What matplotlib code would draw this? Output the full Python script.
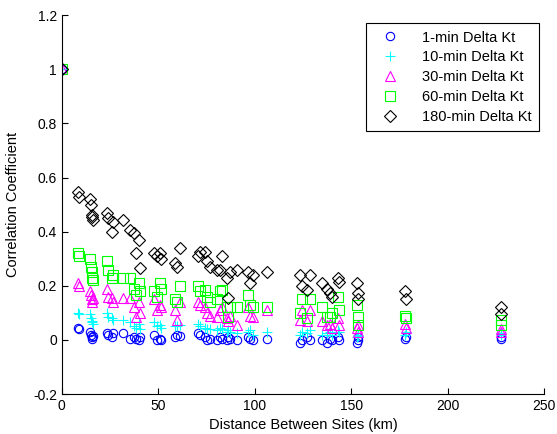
import numpy as np
import matplotlib
matplotlib.use('Agg')
import matplotlib.pyplot as plt

plt.rcParams['font.family'] = ['Liberation Sans', 'DejaVu Sans']

# distance between site pairs (km)
dist = [0, 8.3, 9.0, 14.5, 15.0, 15.6, 15.8, 16.0, 23.3, 23.9, 25.9, 26.5, 31.6,
        35.3, 37.3, 38.4, 40.2, 40.5, 47.7, 49.3, 50.8, 51.5, 58.6, 59.6, 61.2,
        70.5, 71.6, 74.2, 75.2, 76.8, 80.4, 82.0, 83.0, 85.6, 86.1, 87.1, 90.8,
        96.5, 97.5, 99.0, 106.5, 123.4, 124.5, 127.0, 128.6, 135.0, 137.5, 139.0,
        140.0, 143.0, 143.7, 153.0, 153.3, 153.6, 178.0, 178.2, 227.5, 227.8]

# correlation of delta Kt for each averaging interval
r1 = [1, 0.045, 0.04, 0.03, 0.02, 0.01, 0.005, 0.015, 0.025, 0.02, 0.01, 0.025, 0.025,
      0.005, 0.01, 0.005, 0.0, 0.01, 0.02, 0.0, 0.005, 0.0, 0.01, 0.02, 0.015,
      0.025, 0.02, 0.01, 0.0, 0.005, 0.0, 0.01, 0.005, 0.0, 0.01, 0.005, 0.0,
      0.01, 0.005, 0.0, 0.005, -0.01, 0.0, 0.01, 0.0, 0.0, -0.01, 0.005,
      0.0, 0.01, 0.0, -0.01, 0.0, 0.01, 0.005, 0.01, 0.005, 0.01]
r10 = [1, 0.10, 0.095, 0.095, 0.08, 0.07, 0.065, 0.06, 0.10, 0.085, 0.08, 0.075, 0.075,
       0.065, 0.05, 0.045, 0.06, 0.04, 0.065, 0.05, 0.055, 0.045, 0.05, 0.05, 0.055,
       0.06, 0.05, 0.045, 0.04, 0.04, 0.035, 0.045, 0.04, 0.03, 0.035, 0.03, 0.025,
       0.03, 0.035, 0.02, 0.03, 0.02, 0.03, 0.025, 0.035, 0.02, 0.025, 0.03,
       0.02, 0.035, 0.03, 0.01, 0.015, 0.02, 0.02, 0.03, 0.02, 0.025]
r30 = [1, 0.21, 0.20, 0.18, 0.165, 0.15, 0.14, 0.155, 0.19, 0.16, 0.155, 0.14, 0.155,
       0.155, 0.12, 0.085, 0.14, 0.10, 0.15, 0.11, 0.13, 0.12, 0.11, 0.075, 0.14,
       0.14, 0.13, 0.12, 0.10, 0.09, 0.085, 0.11, 0.12, 0.08, 0.07, 0.09, 0.055,
       0.12, 0.09, 0.085, 0.11, 0.075, 0.11, 0.07, 0.11, 0.07, 0.055, 0.06,
       0.045, 0.08, 0.055, 0.045, 0.03, 0.055, 0.06, 0.045, 0.04, 0.03]
r60 = [1, 0.32, 0.31, 0.30, 0.27, 0.25, 0.23, 0.22, 0.29, 0.26, 0.23, 0.24, 0.23,
       0.23, 0.19, 0.165, 0.21, 0.18, 0.18, 0.16, 0.21, 0.19, 0.15, 0.14, 0.20,
       0.20, 0.18, 0.185, 0.16, 0.14, 0.15, 0.18, 0.185, 0.12, 0.085, 0.12, 0.12,
       0.165, 0.13, 0.12, 0.12, 0.10, 0.15, 0.08, 0.15, 0.12, 0.085, 0.085,
       0.10, 0.16, 0.11, 0.13, 0.085, 0.055, 0.09, 0.08, 0.075, 0.055]
r180 = [1, 0.545, 0.53, 0.52, 0.50, 0.46, 0.455, 0.445, 0.47, 0.45, 0.40, 0.435, 0.443,
        0.406, 0.395, 0.32, 0.37, 0.265, 0.32, 0.31, 0.32, 0.30, 0.285, 0.27, 0.34,
        0.31, 0.325, 0.325, 0.29, 0.27, 0.26, 0.258, 0.31, 0.23, 0.155, 0.25, 0.26,
        0.25, 0.21, 0.24, 0.25, 0.24, 0.20, 0.185, 0.24, 0.21, 0.19, 0.175,
        0.16, 0.23, 0.215, 0.21, 0.175, 0.15, 0.18, 0.15, 0.12, 0.095]

series = [
    (r1, 'o', (0, 0, 1), '1-min Delta Kt', 6),
    (r10, '+', (0, 1, 1), '10-min Delta Kt', 7),
    (r30, '^', (1, 0, 1), '30-min Delta Kt', 7),
    (r60, 's', (0, 1, 0), '60-min Delta Kt', 6.5),
    (r180, 'D', (0, 0, 0), '180-min Delta Kt', 6),
]

fig = plt.figure(figsize=(5.57, 4.34), dpi=100)
ax = fig.add_axes([0.111, 0.092, 0.866, 0.873])

for vals, mk, col, lab, ms in series:
    ax.plot(dist, vals, linestyle='none', marker=mk, markersize=ms,
            markerfacecolor='none', markeredgecolor=col, markeredgewidth=0.8,
            color=col, label=lab)

ax.set_xlim(0, 250)
ax.set_ylim(-0.2, 1.2)
ax.set_xticks([0, 50, 100, 150, 200, 250])
ax.set_yticks([-0.2, 0, 0.2, 0.4, 0.6, 0.8, 1, 1.2])
ax.set_yticklabels(['-0.2', '0', '0.2', '0.4', '0.6', '0.8', '1', '1.2'])
ax.spines['top'].set_visible(False)
ax.spines['right'].set_visible(False)
ax.tick_params(direction='in', length=4, labelsize=10, width=0.8)
ax.set_xlabel('Distance Between Sites (km)', fontsize=10.5, labelpad=4)
ax.set_ylabel('Correlation Coefficient', fontsize=10.5, labelpad=9)

leg = ax.legend(loc='upper right', fontsize=10.5, frameon=True, fancybox=False,
                edgecolor='black', framealpha=1, borderpad=0.5, handletextpad=1.0,
                handlelength=2.4, labelspacing=0.4,
                bbox_to_anchor=(1.005, 0.998))
leg.get_frame().set_linewidth(0.8)

fig.savefig('out.png', dpi=100)
